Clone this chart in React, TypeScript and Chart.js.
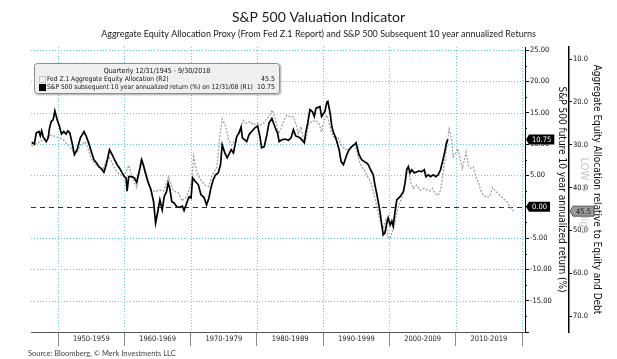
import React, { useEffect, useRef } from 'react';
import { Chart, registerables } from 'chart.js';

Chart.register(...registerables);

const COND = '"DejaVu Sans Condensed", "DejaVu Sans", sans-serif';
const LATO = 'Lato, "Open Sans", sans-serif';

const chartTitle = 'S&P 500 Valuation Indicator';
const chartSubtitle =
  'Aggregate Equity Allocation Proxy (From Fed Z.1 Report) and S&P 500 Subsequent 10 year annualized Returns';
const sourceNote = 'Source: Bloomberg, © Merk Investments LLC';
const legendHeader = 'Quarterly 12/31/1945 - 9/30/2018';
const allocLabel = 'Fed Z.1 Aggregate Equity Allocation (R2)';
const returnLabel = 'S&P 500 subsequent 10 year annualized return (%) on 12/31/08 (R1)';
const r1Title = 'S&P 500 future 10 year annualized return (%)';
const r2Title = 'Aggregate Equity Allocation relative to Equity and Debt';
const watermarkLow = 'LOW ⇔';
const watermarkHigh = 'High';

const decadeBounds = [1950, 1960, 1970, 1980, 1990, 2000, 2010, 2020];
const decadeMids = [1955, 1965, 1975, 1985, 1995, 2005, 2015];
const r1TickValues = [-20, -15, -10, -5, 0, 5, 10, 15, 20, 25];
const r2TickValues = [10, 20, 30, 40, 50, 60, 70];

// S&P 500 subsequent 10 year annualized return (%) — R1
const returnYears = [
  1946.0, 1946.4, 1946.7, 1947.1, 1947.3, 1947.5, 1947.75, 1948.2, 1948.5, 1948.7,
  1948.95, 1949.25, 1949.5, 1949.85, 1950.2, 1950.5, 1950.85, 1951.2, 1951.45, 1951.75,
  1952.1, 1952.45, 1952.85, 1953.35, 1953.9, 1954.25, 1954.6, 1955.0, 1955.4, 1955.8,
  1956.15, 1956.5, 1956.9, 1957.25, 1957.75, 1958.15, 1958.5, 1958.9, 1959.3, 1959.65,
  1960.0, 1960.25, 1960.4, 1960.65, 1961.1, 1961.5, 1961.85, 1962.35, 1962.6, 1962.85,
  1963.25, 1963.6, 1964.0, 1964.4, 1964.7, 1965.0, 1965.35, 1965.7, 1966.0, 1966.35,
  1966.6, 1966.85, 1967.15, 1967.5, 1967.9, 1968.4, 1968.75, 1969.0, 1969.4, 1969.75,
  1970.05, 1970.3, 1970.65, 1971.15, 1971.55, 1972.0, 1972.4, 1972.75, 1973.05, 1973.4,
  1973.75, 1974.15, 1974.5, 1974.75, 1975.15, 1975.5, 1975.75, 1976.1, 1976.45, 1976.95,
  1977.3, 1977.6, 1977.8, 1978.45, 1978.8, 1979.2, 1979.7, 1980.1, 1980.45, 1980.7,
  1981.1, 1981.5, 1981.8, 1982.25, 1982.75, 1983.1, 1983.35, 1983.75, 1984.25, 1984.75,
  1985.15, 1985.5, 1985.85, 1986.5, 1987.15, 1987.35, 1987.65, 1988.0, 1988.35, 1988.65,
  1988.9, 1989.5, 1989.75, 1990.25, 1990.55, 1990.7, 1991.05, 1991.3, 1991.5, 1991.8,
  1992.05, 1992.4, 1992.7, 1993.05, 1993.55, 1993.9, 1994.3, 1994.7, 1994.95, 1995.4,
  1995.8, 1996.2, 1996.55, 1996.8, 1997.15, 1997.55, 1997.8, 1998.05, 1998.3, 1998.55,
  1998.8, 1999.05, 1999.3, 1999.6, 1999.8, 2000.1, 2000.35, 2000.55, 2000.85, 2001.1,
  2001.6, 2002.1, 2002.35, 2002.6, 2002.85, 2003.1, 2003.35, 2003.75, 2004.45, 2004.85,
  2005.25, 2005.5, 2005.85, 2006.2, 2006.6, 2007.0, 2007.35, 2007.7, 2008.0, 2008.35,
  2008.6, 2008.8,
];
const returnValues = [
  10.3, 10.0, 11.8, 12.0, 11.3, 12.1, 11.1, 10.4, 11.0, 12.6,
  13.6, 13.9, 15.3, 13.9, 12.8, 11.6, 12.0, 11.6, 12.1, 11.8,
  10.2, 8.3, 9.1, 11.0, 12.0, 11.2, 10.2, 8.8, 7.5, 7.0,
  6.4, 6.1, 5.5, 6.7, 9.1, 8.3, 7.5, 6.7, 6.1, 5.4,
  4.8, 4.6, 2.5, 4.8, 4.8, 4.6, 3.9, 6.2, 7.5, 6.7,
  5.1, 3.8, 2.7, 0.8, -2.6, -1.0, 1.1, -0.5, 1.6, 2.4,
  3.8, 2.9, 0.8, 0.6, 0.0, -0.1, 0.1, -0.6, 0.6, 1.6,
  1.4, 4.6, 4.1, 3.5, 1.9, 1.5, 0.3, 1.4, 3.0, 4.3,
  5.1, 5.4, 6.7, 9.9, 8.6, 7.8, 8.3, 9.1, 8.6, 11.2,
  11.8, 12.7, 11.0, 10.4, 11.5, 12.0, 12.6, 12.9, 11.2, 9.4,
  9.6, 11.5, 13.3, 14.1, 12.6, 11.8, 10.4, 10.7, 10.8, 10.6,
  11.0, 12.3, 11.3, 11.0, 10.2, 11.8, 13.3, 15.5, 15.2, 14.4,
  15.7, 16.0, 14.4, 15.2, 16.7, 16.8, 14.9, 12.8, 12.0, 11.2,
  10.4, 9.1, 7.2, 6.7, 8.3, 9.1, 9.6, 9.9, 10.2, 8.3,
  7.5, 7.2, 7.0, 6.7, 5.9, 5.1, 3.5, 2.2, 0.8, -0.7,
  -2.6, -4.5, -4.2, -2.6, -1.8, -2.9, -2.3, -3.1, -0.7, 1.1,
  1.6, 2.4, 3.8, 5.9, 6.4, 5.4, 5.9, 5.4, 5.7, 5.6,
  5.9, 4.8, 5.1, 4.8, 5.1, 4.8, 5.1, 5.9, 7.2, 8.8,
  10.2, 10.75,
];

// Fed Z.1 Aggregate Equity Allocation (%) — R2 (inverted)
const allocYears = [
  1946.0, 1946.6, 1947.3, 1948.0, 1948.8, 1949.4, 1949.8, 1950.3, 1950.8, 1951.3,
  1951.8, 1952.35, 1952.8, 1953.35, 1954.1, 1954.6, 1955.1, 1955.6, 1956.1, 1956.7,
  1957.2, 1957.65, 1958.2, 1958.65, 1959.15, 1959.9, 1960.35, 1960.65, 1961.35, 1961.85,
  1962.5, 1963.1, 1963.9, 1964.6, 1965.2, 1965.9, 1966.65, 1967.4, 1968.15, 1968.65,
  1969.2, 1969.65, 1970.15, 1970.45, 1970.9, 1971.55, 1972.15, 1972.7, 1973.25, 1973.95,
  1974.4, 1974.75, 1975.2, 1975.55, 1975.7, 1976.2, 1976.7, 1977.45, 1977.95, 1978.45,
  1978.95, 1979.45, 1979.95, 1980.45, 1980.95, 1981.5, 1982.0, 1982.3, 1982.75, 1983.25,
  1983.65, 1984.0, 1984.5, 1985.0, 1985.5, 1985.85, 1986.25, 1986.65, 1987.0, 1987.4,
  1987.85, 1988.35, 1988.85, 1989.35, 1989.75, 1990.15, 1990.5, 1990.75, 1991.2, 1991.65,
  1992.2, 1992.7, 1993.2, 1993.8, 1994.3, 1994.7, 1995.05, 1995.4, 1995.8, 1996.2,
  1996.55, 1996.9, 1997.3, 1997.7, 1998.05, 1998.3, 1998.7, 1999.05, 1999.45, 1999.75,
  2000.1, 2000.4, 2000.7, 2001.1, 2001.45, 2001.85, 2002.25, 2002.6, 2002.95, 2003.25,
  2003.6, 2004.1, 2004.6, 2005.1, 2005.6, 2006.1, 2006.5, 2006.85, 2007.35, 2007.7,
  2008.0, 2008.35, 2008.7, 2009.0, 2009.4, 2009.6, 2010.0, 2010.3, 2010.65, 2011.0,
  2011.55, 2011.9, 2012.25, 2012.65, 2013.05, 2013.4, 2013.75, 2014.15, 2014.65, 2015.15,
  2015.55, 2015.9, 2016.65, 2017.15, 2017.7, 2018.2, 2018.5, 2018.75,
];
const allocValues = [
  30.3, 29.8, 29.3, 28.5, 27.8, 28.0, 28.2, 28.5, 28.9, 29.8,
  30.5, 31.7, 32.0, 30.1, 29.3, 31.3, 33.6, 34.5, 35.2, 35.9,
  34.0, 32.8, 34.5, 35.9, 36.7, 37.5, 35.9, 34.8, 38.3, 40.0,
  33.2, 36.5, 40.2, 41.0, 40.6, 40.8, 37.5, 40.8, 41.2, 43.1,
  42.5, 41.0, 38.3, 32.8, 36.3, 38.3, 39.4, 39.8, 37.1, 35.2,
  28.0, 24.0, 25.4, 27.4, 28.9, 30.1, 28.9, 26.6, 24.3, 25.0,
  24.6, 25.4, 25.0, 25.4, 25.0, 23.9, 23.1, 21.9, 23.9, 27.4,
  26.2, 24.6, 23.1, 23.5, 23.5, 25.0, 27.4, 25.8, 28.9, 28.5,
  25.0, 24.6, 24.3, 25.0, 27.0, 24.3, 23.1, 24.0, 27.0, 28.5,
  28.2, 30.1, 30.9, 31.3, 30.5, 30.0, 31.3, 33.6, 35.2, 35.9,
  37.1, 37.9, 39.4, 41.8, 44.1, 46.1, 48.4, 49.6, 47.6, 51.5,
  51.9, 50.3, 49.2, 45.7, 44.1, 42.5, 39.8, 36.7, 36.3, 39.0,
  40.2, 39.4, 40.6, 40.2, 40.5, 40.8, 40.2, 41.4, 41.8, 40.6,
  37.5, 33.6, 29.7, 26.4, 28.9, 32.8, 32.0, 30.9, 33.2, 35.5,
  31.7, 34.8, 35.5, 35.2, 37.5, 38.7, 40.6, 41.8, 42.3, 42.0,
  40.0, 40.6, 41.8, 42.5, 43.3, 44.5, 45.1, 45.5,
];

const xRange = { min: 1945.9, max: 2020.45 };
const r1Range = { min: -20, max: 25.5 };
const r2Range = { min: 7.2, max: 73.7 };

function badge(ctx: any, x: number, y: number, text: string, fill: string, color: string, stroke?: string) {
  ctx.save();
  ctx.font = `7.5px ${COND}`;
  const w = ctx.measureText(text).width + 6;
  const h = 10;
  const tip = 3;
  ctx.beginPath();
  ctx.moveTo(x, y);
  ctx.lineTo(x + tip, y - h / 2);
  ctx.lineTo(x + tip + w, y - h / 2);
  ctx.lineTo(x + tip + w, y + h / 2);
  ctx.lineTo(x + tip, y + h / 2);
  ctx.closePath();
  ctx.fillStyle = fill;
  ctx.fill();
  if (stroke) {
    ctx.strokeStyle = stroke;
    ctx.lineWidth = 1;
    ctx.stroke();
  }
  ctx.fillStyle = color;
  ctx.textAlign = 'left';
  ctx.textBaseline = 'middle';
  ctx.fillText(text, x + tip + 3, y + 0.5);
  ctx.restore();
}

const decorPlugin = {
  id: 'decor',
  beforeDatasetsDraw(chart: any) {
    const { ctx, chartArea: a, scales } = chart;
    const sx = scales.x;
    const s1 = scales.r1;
    ctx.save();
    ctx.lineWidth = 1;
    ctx.strokeStyle = '#5fd0de';
    ctx.setLineDash([1, 2]);
    ctx.beginPath();
    decadeBounds.forEach((v) => {
      const p = Math.round(sx.getPixelForValue(v)) + 0.5;
      ctx.moveTo(p, a.top);
      ctx.lineTo(p, a.bottom);
    });
    r1TickValues.forEach((v) => {
      if (v === 0 || v <= r1Range.min) return;
      const p = Math.round(s1.getPixelForValue(v)) + 0.5;
      ctx.moveTo(a.left, p);
      ctx.lineTo(a.right, p);
    });
    ctx.stroke();
    ctx.strokeStyle = '#333';
    ctx.setLineDash([5, 4]);
    const z = Math.round(s1.getPixelForValue(0)) + 0.5;
    ctx.beginPath();
    ctx.moveTo(a.left, z);
    ctx.lineTo(a.right, z);
    ctx.stroke();
    ctx.restore();
  },
  afterDraw(chart: any) {
    const { ctx, chartArea: a, scales } = chart;
    const s1 = scales.r1;
    const s2 = scales.r2;
    ctx.save();

    // minor ticks on R1
    ctx.strokeStyle = '#000';
    ctx.lineWidth = 1;
    ctx.beginPath();
    r1TickValues.forEach((v) => {
      const m = v + 2.5;
      if (m >= r1Range.max) return;
      const p = Math.round(s1.getPixelForValue(m)) + 0.5;
      ctx.moveTo(s1.left, p);
      ctx.lineTo(s1.left + 2, p);
    });
    ctx.stroke();

    // titles
    const cx = (a.left + s2.right) / 2;
    ctx.fillStyle = '#1a1a1a';
    ctx.textAlign = 'center';
    ctx.textBaseline = 'middle';
    ctx.font = `14px ${LATO}`;
    ctx.fillText(chartTitle, cx, 17);
    ctx.font = `9px ${LATO}`;
    ctx.fillText(chartSubtitle, cx, 34);

    // source
    ctx.fillStyle = '#444';
    ctx.textAlign = 'left';
    ctx.font = `7.5px ${LATO}`;
    ctx.fillText(sourceNote, a.left - 3, 354);

    // watermark
    ctx.save();
    ctx.translate(s2.left + 15, s2.getPixelForValue(33));
    ctx.rotate(Math.PI / 2);
    ctx.fillStyle = '#c4c4c4';
    ctx.font = `11px ${COND}`;
    ctx.textAlign = 'left';
    ctx.fillText(watermarkLow, 0, 0);
    ctx.restore();
    ctx.save();
    ctx.translate(s2.left + 15, s2.getPixelForValue(45.5));
    ctx.rotate(Math.PI / 2);
    ctx.fillStyle = '#c4c4c4';
    ctx.font = `11px ${COND}`;
    ctx.textAlign = 'left';
    ctx.fillText(watermarkHigh, 0, 0);
    ctx.restore();

    // legend box
    const bx = a.left + 3;
    const by = a.top + 16;
    const bw = 246;
    const bh = 31;
    ctx.save();
    ctx.shadowColor = 'rgba(0,0,0,0.35)';
    ctx.shadowBlur = 2;
    ctx.shadowOffsetX = 1;
    ctx.shadowOffsetY = 1;
    ctx.beginPath();
    ctx.roundRect(bx, by, bw, bh, 3);
    ctx.fillStyle = '#f0f0f0';
    ctx.fill();
    ctx.restore();
    ctx.beginPath();
    ctx.roundRect(bx + 0.5, by + 0.5, bw - 1, bh - 1, 3);
    ctx.strokeStyle = '#8c8c8c';
    ctx.lineWidth = 1;
    ctx.stroke();

    ctx.fillStyle = '#111';
    ctx.font = `7px ${COND}`;
    ctx.textAlign = 'center';
    ctx.fillText(legendHeader, bx + bw / 2, by + 8);
    // fit row labels into the space before the values
    const avail = bw - 13 - 27;
    const measured = ctx.measureText(returnLabel).width;
    const rowSize = Math.min(7, (7 * avail) / measured);
    ctx.font = `${rowSize.toFixed(2)}px ${COND}`;
    ctx.textAlign = 'left';
    ctx.fillText(allocLabel, bx + 13, by + 16.5);
    ctx.fillText(returnLabel, bx + 13, by + 24.5);
    ctx.font = `7px ${COND}`;
    ctx.textAlign = 'right';
    ctx.fillText(allocValues[allocValues.length - 1].toFixed(1), bx + bw - 5, by + 16.5);
    ctx.fillText(returnValues[returnValues.length - 1].toFixed(2), bx + bw - 5, by + 24.5);
    // icons
    ctx.setLineDash([1, 1]);
    ctx.strokeStyle = '#999';
    ctx.strokeRect(bx + 5.5, by + 13.5, 6, 6);
    ctx.setLineDash([]);
    ctx.fillStyle = '#000';
    ctx.fillRect(bx + 5, by + 21, 7, 7);

    // badges
    badge(ctx, s1.left + 1, s1.getPixelForValue(0), (0).toFixed(2), '#000', '#fff');
    badge(ctx, s1.left + 1, s1.getPixelForValue(returnValues[returnValues.length - 1]),
      returnValues[returnValues.length - 1].toFixed(2), '#000', '#fff');
    badge(ctx, s2.left + 1, s2.getPixelForValue(allocValues[allocValues.length - 1]),
      allocValues[allocValues.length - 1].toFixed(1), '#9a9a9a', '#1a1a1a', '#555');

    ctx.restore();
  },
};

export default function App() {
  const ref = useRef<HTMLCanvasElement | null>(null);

  useEffect(() => {
    if (!ref.current) return;
    const returnData = returnYears.map((x, i) => ({ x, y: returnValues[i] }));
    const allocData = allocYears.map((x, i) => ({ x, y: allocValues[i] }));

    const chart = new Chart(ref.current, {
      type: 'line',
      data: {
        datasets: [
          {
            label: returnLabel,
            data: returnData,
            yAxisID: 'r1',
            borderColor: '#000',
            borderWidth: 1.7,
            pointRadius: 0,
            tension: 0,
            fill: false,
          },
          {
            label: allocLabel,
            data: allocData,
            yAxisID: 'r2',
            borderColor: '#a0a0a0',
            borderWidth: 1.3,
            borderDash: [2, 1.5],
            pointRadius: 0,
            tension: 0,
            fill: false,
          },
        ],
      },
      options: {
        animation: false,
        responsive: true,
        maintainAspectRatio: false,
        events: [],
        layout: { padding: { left: 31, top: 47, right: 11, bottom: 0 } },
        plugins: {
          legend: { display: false },
          tooltip: { enabled: false },
          title: { display: false },
        },
        scales: {
          x: {
            type: 'linear',
            position: 'bottom',
            min: xRange.min,
            max: xRange.max,
            afterBuildTicks: (s: any) => {
              s.ticks = [...decadeBounds, ...decadeMids].sort((p, q) => p - q).map((value) => ({ value }));
            },
            afterFit: (s: any) => {
              s.height = 27;
            },
            border: { display: true, color: '#555', width: 1 },
            grid: {
              drawOnChartArea: false,
              drawTicks: true,
              tickLength: 14,
              tickColor: (c: any) => (decadeBounds.includes(c.tick?.value) ? '#8a8a8a' : 'rgba(0,0,0,0)'),
            },
            ticks: {
              autoSkip: false,
              maxRotation: 0,
              padding: -11,
              color: '#222',
              font: { family: COND, size: 7.5 },
              callback: (v: any) => {
                const n = Number(v);
                return decadeMids.includes(n) ? `${n - 5}-${n + 4}` : '';
              },
            },
          },
          r1: {
            type: 'linear',
            position: 'right',
            weight: 0,
            min: r1Range.min,
            max: r1Range.max,
            afterBuildTicks: (s: any) => {
              s.ticks = r1TickValues.map((value) => ({ value }));
            },
            afterFit: (s: any) => {
              s.width = 44;
            },
            border: { display: true, color: '#000', width: 1 },
            grid: { drawOnChartArea: false, tickLength: 4, tickColor: '#000' },
            ticks: {
              padding: 1,
              color: '#111',
              font: { family: COND, size: 7.5 },
              callback: (v: any) => (Number(v) === r1Range.min ? '' : Number(v).toFixed(2)),
            },
            title: {
              display: true,
              text: r1Title,
              color: '#111',
              font: { family: COND, size: 10 },
              padding: { top: 1, bottom: 0 },
            },
          },
          r2: {
            type: 'linear',
            position: 'right',
            weight: 1,
            reverse: true,
            min: r2Range.min,
            max: r2Range.max,
            afterBuildTicks: (s: any) => {
              s.ticks = r2TickValues.map((value) => ({ value }));
            },
            afterFit: (s: any) => {
              s.width = 37;
            },
            border: { display: true, color: '#000', width: 1.5 },
            grid: { drawOnChartArea: false, tickLength: 3, tickColor: '#000' },
            ticks: {
              padding: 1,
              color: '#111',
              font: { family: COND, size: 7.5 },
              callback: (v: any) => Number(v).toFixed(1),
            },
            title: {
              display: true,
              text: r2Title,
              color: '#111',
              font: { family: COND, size: 10 },
              padding: { top: 3, bottom: 0 },
            },
          },
        },
      },
      plugins: [decorPlugin],
    } as any);

    return () => chart.destroy();
  }, []);

  return (
    <div style={{ position: 'fixed', left: 0, top: 0, width: 617, height: 359, background: '#fff' }}>
      <canvas ref={ref} />
    </div>
  );
}
